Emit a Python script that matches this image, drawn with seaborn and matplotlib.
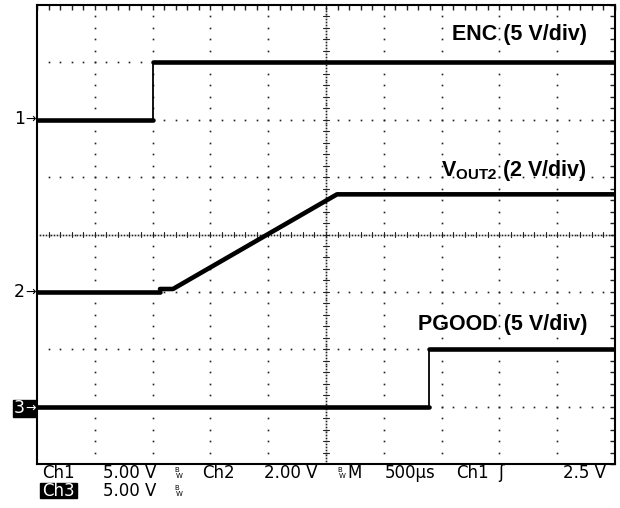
import numpy as np
import pandas as pd
import matplotlib
matplotlib.use("Agg")
import matplotlib.pyplot as plt
import seaborn as sns

# ---- data (time in microseconds, amplitude in volts) ----
enc_t = [0, 1000, 1000, 5000]
enc_v = [0, 0, 5, 5]
vout_t = [0, 1064, 1064, 1176, 2595, 5000]
vout_v = [0, 0, 0.1, 0.1, 3.4, 3.4]
pgood_t = [0, 3390, 3390, 5000]
pgood_v = [0, 0, 5, 5]

# channel settings: volts/div and vertical position (divisions above bottom)
ch_names = ["ENC", "VOUT2", "PGOOD"]
ch_scale = [5.0, 2.0, 5.0]
ch_offset = [6.0, 3.0, 1.0]
trace_labels = ["ENC (5 V/div)", r"$\mathbf{V_{OUT2}}$ (2 V/div)", "PGOOD (5 V/div)"]
bottom_row1 = ["Ch1", "5.00 V", "Ch2", "2.00 V", "M", "500\u00b5s", "Ch1", "2.5 V"]
bottom_row2 = ["Ch3", "5.00 V"]

W, H, DPI = 620, 508, 100
sns.set_style("white")
plt.rcParams["font.family"] = ["DejaVu Sans"]
plt.rcParams["text.color"] = "black"
plt.rcParams["mathtext.fontset"] = "custom"
plt.rcParams["mathtext.bf"] = "Liberation Sans:bold"
plt.rcParams["mathtext.rm"] = "Liberation Sans"

fig = plt.figure(figsize=(W / DPI, H / DPI), dpi=DPI)
L, R, T, B = 37, 615, 5, 464
ax = fig.add_axes([L / W, 1 - B / H, (R - L) / W, (B - T) / H])
ax.set_xlim(0, 5000)
ax.set_ylim(0, 8)


def px(x, y):
    return x / W, 1 - y / H


# ---- graticule ----
dot_kw = dict(ls="none", marker="s", ms=1.2, color="#222222", mec="none")
ys_fine = np.arange(0.2, 8, 0.2)
xs_fine = np.arange(100, 5000, 100)
for k in range(1, 10):
    if k == 5:
        continue
    ax.plot(np.full_like(ys_fine, k * 500), ys_fine, **dot_kw)
for m in range(1, 8):
    if m == 4:
        continue
    ax.plot(xs_fine, np.full_like(xs_fine, m, dtype=float), **dot_kw)
# center cross: finer dots + small ticks
cy = np.arange(0.05, 8, 0.05)
cx = np.arange(25, 5000, 25)
ax.plot(np.full_like(cy, 2500), cy, **dot_kw)
ax.plot(cx, np.full_like(cx, 4.0, dtype=float), **dot_kw)
for yy in ys_fine:
    ax.plot([2500 - 30, 2500 + 30], [yy, yy], color="#222222", lw=0.8)
for xx in xs_fine:
    ax.plot([xx, xx], [4 - 0.05, 4 + 0.05], color="#222222", lw=0.8)

ax.set_xticks(np.arange(0, 5001, 500))
ax.set_xticks(np.arange(0, 5001, 100), minor=True)
ax.set_yticks(np.arange(0, 9, 1))
ax.set_yticks(np.arange(0, 8.01, 0.2), minor=True)
ax.tick_params(which="both", direction="in", length=3.5, width=1,
               top=True, right=True, labelbottom=False, labelleft=False,
               color="#222222")
for s in ax.spines.values():
    s.set_linewidth(1.5)
    s.set_color("black")

# ---- traces ----
rows = []
for name, tt, vv, sc, off in zip(ch_names, [enc_t, vout_t, pgood_t],
                                 [enc_v, vout_v, pgood_v], ch_scale, ch_offset):
    seg = 0
    for i, (t, v) in enumerate(zip(tt, vv)):
        y = off + v / sc
        if i > 0 and t == tt[i - 1]:
            seg += 1
        rows.append(dict(ch=name, t=t, y=y, seg=f"{name}-{seg}"))
df = pd.DataFrame(rows)
# thin full trace (vertical edges)
for name in ch_names:
    sub = df[df.ch == name]
    sns.lineplot(data=sub, x="t", y="y", estimator=None, sort=False,
                 color="black", lw=1.3, ax=ax, legend=False)
# thick horizontal/ramp segments
sns.lineplot(data=df, x="t", y="y", units="seg", estimator=None, sort=False,
             color="black", lw=3.3, ax=ax, legend=False)
ax.set_xlabel("")
ax.set_ylabel("")
ax.set_xlim(0, 5000)
ax.set_ylim(0, 8)

# ---- trace labels ----
lab_font = dict(family="Liberation Sans", weight="bold", fontsize=15.5,
                color="black", ha="right", va="baseline",
                transform=fig.transFigure)
fig.text(*px(587, 40), trace_labels[0], **lab_font)
fig.text(*px(587, 176), trace_labels[1], **lab_font)
fig.text(*px(587, 330), trace_labels[2], **lab_font)

# ---- channel ground markers ----
mk_font = dict(fontsize=12.5, va="center", color="black", transform=fig.transFigure)
ar_font = dict(fontsize=9, va="center", transform=fig.transFigure)
fig.text(*px(14, 119), "1", **mk_font)
fig.text(*px(25, 119), "\u2192", color="black", **ar_font)
fig.text(*px(14, 292), "2", **mk_font)
fig.text(*px(25, 292), "\u2192", color="black", **ar_font)
fig.patches.append(matplotlib.patches.Rectangle(px(13, 417), 23 / W, 17 / H,
                   transform=fig.transFigure, color="black"))
fig.text(*px(14, 408), "3", **{**mk_font, "color": "white"})
fig.text(*px(25, 408), "\u2192", color="white", **ar_font)

# ---- bottom status text ----
st = dict(fontsize=12, va="center", ha="left", transform=fig.transFigure)
row1_x = [42, 103, 202, 264, 347, 385, 456, 563]
for x, s in zip(row1_x, bottom_row1):
    fig.text(*px(x, 473), s, color="black", **st)
fig.patches.append(matplotlib.patches.Rectangle(px(40, 498), 37 / W, 15 / H,
                   transform=fig.transFigure, color="black"))
fig.text(*px(42, 491), bottom_row2[0], color="white", **st)
fig.text(*px(103, 491), bottom_row2[1], color="black", **st)
# bandwidth-limit marks
for x, y in [(174, 473), (337, 473), (174, 491)]:
    fig.text(*px(x, y - 3), "B", fontsize=5, color="black", va="center",
             transform=fig.transFigure)
    fig.text(*px(x + 2, y + 3), "W", fontsize=5, color="black", va="center",
             transform=fig.transFigure)
# trigger slope mark
fig.text(*px(498, 473), "\u0283", fontsize=12, color="black", va="center",
         transform=fig.transFigure)

fig.savefig("out.png", dpi=DPI, facecolor="white")
